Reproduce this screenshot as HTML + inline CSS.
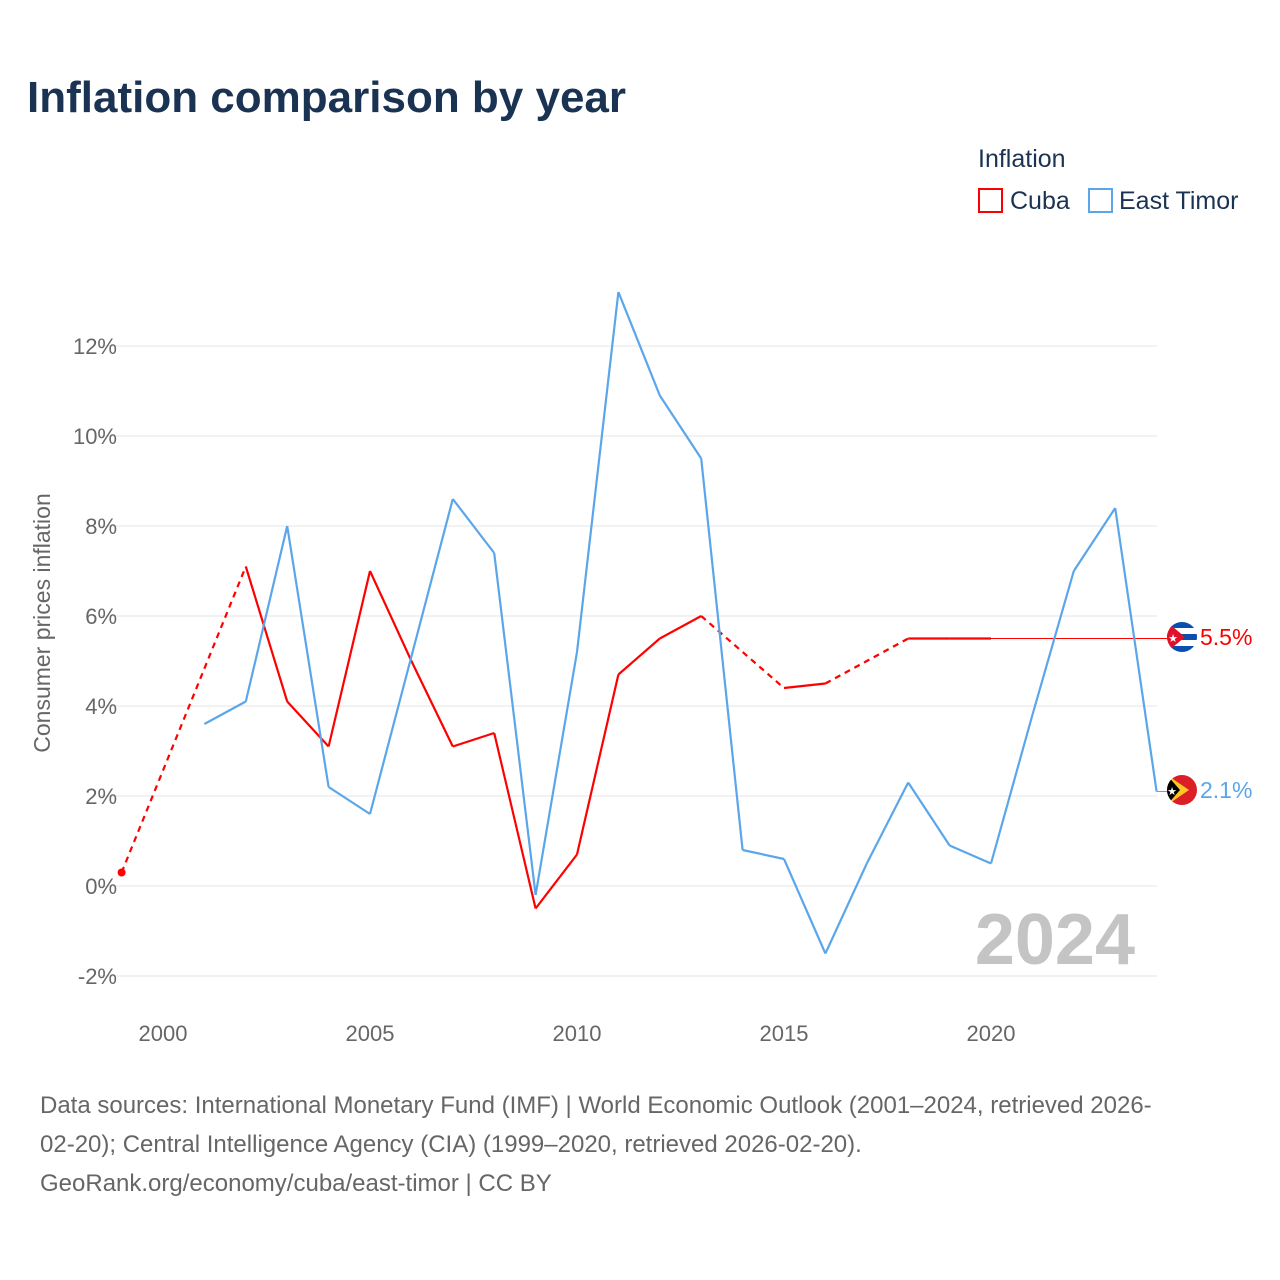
<!DOCTYPE html>
<html><head><meta charset="utf-8">
<style>
body{margin:0;background:#fff;font-family:"Liberation Sans",sans-serif;}
#wrap{position:relative;width:1280px;height:1280px;overflow:hidden;}
</style></head>
<body><div id="wrap">
<svg id="chart" width="1280" height="1280" xmlns="http://www.w3.org/2000/svg">
<text x="27" y="112" font-size="44" font-weight="bold" fill="#1b3353">Inflation comparison by year</text>
<text x="978" y="167" font-size="25" fill="#1b3353">Inflation</text>
<g><rect x="979" y="189" width="23" height="23" fill="none" stroke="#f00" stroke-width="2"/><text x="1010" y="209" font-size="25" fill="#1b3353">Cuba</text></g>
<g><rect x="1089" y="189" width="23" height="23" fill="none" stroke="#5ba6ea" stroke-width="2"/><text x="1119" y="209" font-size="25" fill="#1b3353">East Timor</text></g>
<text transform="translate(50,623) rotate(-90)" text-anchor="middle" font-size="23" fill="#666">Consumer prices inflation</text>
<g id="grid"></g><g id="lines"></g>
<text x="1135" y="964" text-anchor="end" font-size="72" font-weight="bold" fill="#c4c4c4">2024</text>
<g>
<clipPath id="c1"><circle cx="1182" cy="637" r="15"/></clipPath>
<g clip-path="url(#c1)"><rect x="1167" y="622" width="30" height="30" fill="#fff"/><rect x="1167" y="622" width="30" height="6" fill="#0a4fb0"/><rect x="1167" y="634" width="30" height="6" fill="#0a4fb0"/><rect x="1167" y="646" width="30" height="6" fill="#0a4fb0"/><polygon points="1167,622 1185,637 1167,652" fill="#e0102a"/><text x="1173" y="642" font-size="11" fill="#fff" text-anchor="middle">★</text></g></g>
<g>
<clipPath id="c2"><circle cx="1182" cy="790" r="15"/></clipPath>
<g clip-path="url(#c2)"><rect x="1167" y="775" width="30" height="30" fill="#dc1f26"/><polygon points="1167,775 1189,790 1167,805" fill="#ffc726"/><polygon points="1167,775 1180,790 1167,805" fill="#000"/><text x="1172" y="795" font-size="11" fill="#fff" text-anchor="middle">★</text></g></g>
<text x="1200" y="645" font-size="23" fill="#f00">5.5%</text>
<text x="1200" y="798" font-size="23" fill="#5ba6ea">2.1%</text>
<text font-size="24" fill="#666"><tspan x="40" y="1113">Data sources: International Monetary Fund (IMF) | World Economic Outlook (2001–2024, retrieved 2026-</tspan><tspan x="40" y="1152">02-20); Central Intelligence Agency (CIA) (1999–2020, retrieved 2026-02-20).</tspan><tspan x="40" y="1191">GeoRank.org/economy/cuba/east-timor | CC BY</tspan></text>
</svg>
<script>
const years=[1999,2000,2001,2002,2003,2004,2005,2006,2007,2008,2009,2010,2011,2012,2013,2014,2015,2016,2017,2018,2019,2020,2021,2022,2023,2024];
const cuba=[0.3,null,null,7.1,4.1,3.1,7.0,5.0,3.1,3.4,-0.5,0.7,4.7,5.5,6.0,null,4.4,4.5,null,5.5,5.5,5.5,null,null,null,null];
const timor=[null,null,3.6,4.1,8.0,2.2,1.6,5.1,8.6,7.4,-0.2,5.2,13.2,10.9,9.5,0.8,0.6,-1.5,0.5,2.3,0.9,0.5,3.8,7.0,8.4,2.1];
const yTicks=[-2,0,2,4,6,8,10,12];
const xTicks=[2000,2005,2010,2015,2020];
const cubaLast=5.5, timorLast=2.1;
const NS="http://www.w3.org/2000/svg";
const X=y=>163+(y-2000)*41.4;
const Y=v=>886-v*45;
const grid=document.getElementById('grid'),lines=document.getElementById('lines');
function mk(t,a,p){const e=document.createElementNS(NS,t);for(const k in a)e.setAttribute(k,a[k]);p.appendChild(e);return e;}
yTicks.forEach(v=>{
 const l=mk('line',{x1:100,x2:1157,y1:Y(v),y2:Y(v),stroke:'#e6e6e6','stroke-width':1},grid);
 
 
 const t=mk('text',{x:117,y:Y(v)+8,'text-anchor':'end','font-size':22,fill:'#666'},grid);t.textContent=v+'%';
 
 
});
xTicks.forEach(v=>{
 const t=mk('text',{x:X(v),y:1041,'text-anchor':'middle','font-size':22,fill:'#666'},grid);t.textContent=v;
 
 
});
function series(vals,color,name){
 const g=mk('g',{},lines);
 
 
 const pts=[];vals.forEach((v,i)=>{if(v!==null)pts.push([years[i],v]);});
 for(let i=1;i<pts.length;i++){
  const a=pts[i-1],b=pts[i];const dashed=b[0]-a[0]>1;
  const s=mk('line',{x1:X(a[0]),y1:Y(a[1]),x2:X(b[0]),y2:Y(b[1]),stroke:color,'stroke-width':2.2,'stroke-dasharray':dashed?'6,5':'none'},g);
  
  
 }
 return pts;
}
const cp=series(cuba,'#f00','cuba');
const c0=mk('circle',{cx:X(cp[0][0]),cy:Y(cp[0][1]),r:4,fill:'#f00'},lines);


const cl=cp[cp.length-1];
const ce=mk('line',{x1:X(cl[0]),y1:Y(cubaLast),x2:1167,y2:Y(cubaLast),stroke:'#f00','stroke-width':1},lines);


const tp=series(timor,'#5ba6ea','east-timor');
const te=mk('line',{x1:X(2024),y1:Y(timorLast),x2:1167,y2:Y(timorLast),stroke:'#5ba6ea','stroke-width':1},lines);


</script>
</div></body></html>
